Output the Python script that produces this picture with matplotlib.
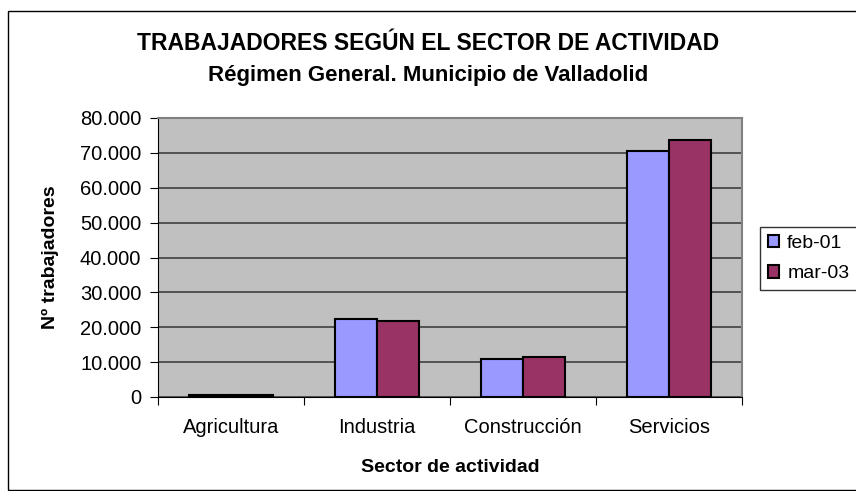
import matplotlib.pyplot as plt
import numpy as np
from matplotlib.patches import Rectangle
from matplotlib.ticker import FuncFormatter

plt.rcParams['font.family'] = ['Liberation Sans', 'DejaVu Sans']

sectores = ['Agricultura', 'Industria', 'Construcción', 'Servicios']
feb_01 = [700, 22400, 11000, 70600]
mar_03 = [600, 21800, 11500, 73800]
series = ['feb-01', 'mar-03']

fig = plt.figure(figsize=(8.56, 4.91), dpi=100)
fig.patches.append(Rectangle((8 / 856, 1 / 491), 1, 1 - 12 / 491, transform=fig.transFigure,
                             fill=False, edgecolor='black', linewidth=1))

ax = fig.add_axes([158 / 856, 1 - 397 / 491, 584 / 856, 279 / 491])
ax.set_facecolor('#C0C0C0')

x = np.arange(len(sectores))
w = 1 / 3.5
ax.bar(x - w / 2, feb_01, w, color='#9999FF', edgecolor='black', linewidth=1.5,
       label=series[0], zorder=3)
ax.bar(x + w / 2, mar_03, w, color='#993366', edgecolor='black', linewidth=1.5,
       label=series[1], zorder=3)

ax.set_xlim(-0.5, len(sectores) - 0.5)
ax.set_ylim(0, 80000)
ax.set_yticks(np.arange(0, 80001, 10000))
ax.yaxis.set_major_formatter(FuncFormatter(lambda v, p: f'{int(v):,}'.replace(',', '.')))
ax.yaxis.grid(True, color='#404040', linewidth=1.2, zorder=1)
ax.set_axisbelow(True)

ax.set_xticks(np.arange(-0.5, len(sectores), 1), minor=False)
ax.set_xticklabels([])
ax.set_xticks(x, minor=True)
ax.set_xticklabels(sectores, minor=True, fontsize=14.5)
ax.tick_params(axis='x', which='minor', length=0, pad=15)
ax.tick_params(axis='x', which='major', length=6, direction='out', color='black')
ax.tick_params(axis='y', length=6, labelsize=14.5, color='black', pad=6)

for side in ['top', 'right']:
    ax.spines[side].set_color('#808080')
    ax.spines[side].set_linewidth(1.5)
ax.spines['left'].set_color('black')
ax.spines['bottom'].set_color('black')

ax.set_xlabel('Sector de actividad', fontsize=14, fontweight='bold', labelpad=16)
ax.set_ylabel('Nº trabajadores', fontsize=14, fontweight='bold', labelpad=15)

fig.text(0.5, 1 - 44 / 491, 'TRABAJADORES SEGÚN EL SECTOR DE ACTIVIDAD', ha='center',
         va='center', fontsize=16.5, fontweight='bold')
fig.text(0.5, 1 - 76 / 491, 'Régimen General. Municipio de Valladolid', ha='center',
         va='center', fontsize=16, fontweight='bold')

leg = fig.legend(loc='upper left', bbox_to_anchor=(760 / 856, 1 - 227 / 491), fontsize=14,
                 frameon=True, fancybox=False, edgecolor='black', handlelength=0.6,
                 handleheight=0.6, handletextpad=0.4, borderpad=0.4, labelspacing=0.7,
                 borderaxespad=0)
leg.get_frame().set_linewidth(1)

fig.savefig('out.png', dpi=100)
